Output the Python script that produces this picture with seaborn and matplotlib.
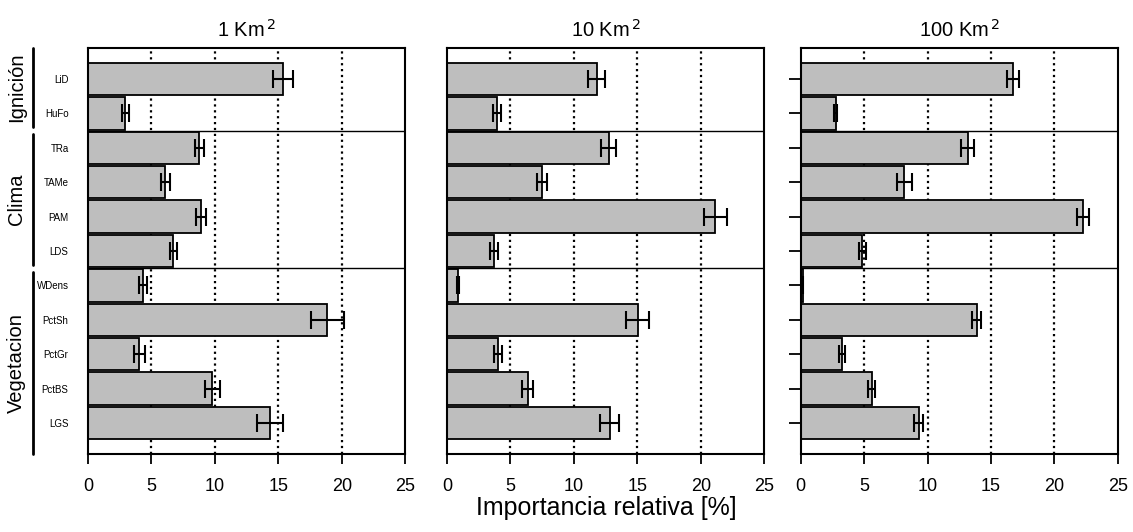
import pandas as pd
import matplotlib
matplotlib.use("Agg")
import matplotlib.pyplot as plt
import seaborn as sns

# variables (top to bottom) and their groups
variables = ["LiD", "HuFo", "TRa", "TAMe", "PAM", "LDS",
             "WDens", "PctSh", "PctGr", "PctBS", "LGS"]
groups = ["Ignición", "Clima", "Vegetacion"]
group_spans = [(-0.9, 1.4), (1.6, 5.4), (5.6, 10.9)]
group_breaks = [1.5, 5.5]

scales = ["1 Km$^{\\,2}$", "10 Km$^{\\,2}$", "100 Km$^{\\,2}$"]

# relative importance [%] and error (half width) per scale
imp_1 = [15.35, 2.95, 8.78, 6.1, 8.89, 6.73, 4.36, 18.85, 4.05, 9.8, 14.35]
err_1 = [0.8, 0.3, 0.33, 0.35, 0.37, 0.26, 0.32, 1.3, 0.43, 0.59, 1.02]
imp_10 = [11.8, 3.94, 12.75, 7.47, 21.14, 3.71, 0.87, 15.04, 4.0, 6.36, 12.83]
err_10 = [0.65, 0.32, 0.59, 0.39, 0.89, 0.34, 0.05, 0.92, 0.33, 0.42, 0.75]
imp_100 = [16.74, 2.76, 13.15, 8.16, 22.25, 4.85, 0.15, 13.87, 3.28, 5.6, 9.3]
err_100 = [0.5, 0.1, 0.49, 0.6, 0.47, 0.29, 0.05, 0.34, 0.25, 0.28, 0.37]

xticks = [0, 5, 10, 15, 20, 25]

df = pd.concat([
    pd.DataFrame({"variable": variables, "value": v, "err": e, "scale": s})
    for v, e, s in zip([imp_1, imp_10, imp_100], [err_1, err_10, err_100], scales)
])

sns.set_theme(style="white")
plt.rcParams["font.family"] = ["Liberation Sans", "DejaVu Sans"]
plt.rcParams["text.color"] = "black"
plt.rcParams["xtick.color"] = "black"
plt.rcParams["ytick.color"] = "black"
plt.rcParams["xtick.labelcolor"] = "black"
plt.rcParams["ytick.labelcolor"] = "black"

fig = plt.figure(figsize=(11.33, 5.32), dpi=100)
lefts = [0.0777, 0.3945, 0.7067]
width = 0.280
bottom, height = 0.1466, 0.7632

axes = []
for i, s in enumerate(scales):
    ax = fig.add_axes([lefts[i], bottom, width, height])
    axes.append(ax)
    sub = df[df["scale"] == s]
    for g in [5, 10, 15, 20]:
        ax.axvline(g, color="black", linestyle=":", lw=1.6, zorder=0)
    sns.barplot(data=sub, x="value", y="variable", color="#bebebe",
                saturation=1, edgecolor="black", linewidth=1.3, width=0.94,
                errorbar=None, ax=ax, zorder=2)
    ax.errorbar(sub["value"], range(len(variables)), xerr=sub["err"],
                fmt="none", ecolor="black", elinewidth=1.5, capsize=6.5,
                capthick=1.5, zorder=3)
    for b in group_breaks:
        ax.axhline(b, color="black", lw=1.0, zorder=3)
    ax.set_xlim(0, 25)
    ax.set_ylim(10.9, -0.9)
    ax.set_xticks(xticks)
    ax.tick_params(axis="x", direction="out", length=7, width=1.3,
                   labelsize=13, pad=10, bottom=True)
    ax.set_xlabel("")
    ax.set_ylabel("")
    ax.set_title(s, fontsize=14.5, pad=8)
    for sp in ax.spines.values():
        sp.set_linewidth(1.5)
        sp.set_color("black")
    if i == 0:
        ax.tick_params(axis="y", length=0, labelsize=7, pad=14)
    elif i == 1:
        ax.set_yticks([])
    else:
        ax.tick_params(axis="y", direction="out", length=9, width=1.3,
                       labelleft=False, left=True)

# group labels on the left of the first panel
ax0 = axes[0]
trans = ax0.get_yaxis_transform()
for name, (y0, y1) in zip(groups, group_spans):
    ax0.plot([-0.1735, -0.1735], [y0, y1], color="black", lw=2,
             transform=trans, clip_on=False)
    ax0.text(-0.225, (y0 + y1) / 2, name, rotation=90, fontsize=14.5,
             ha="center", va="center", transform=trans)

fig.text(0.5355, 0.046, "Importancia relativa [%]", ha="center",
         va="center", fontsize=18)

fig.savefig("out.png", dpi=100)
